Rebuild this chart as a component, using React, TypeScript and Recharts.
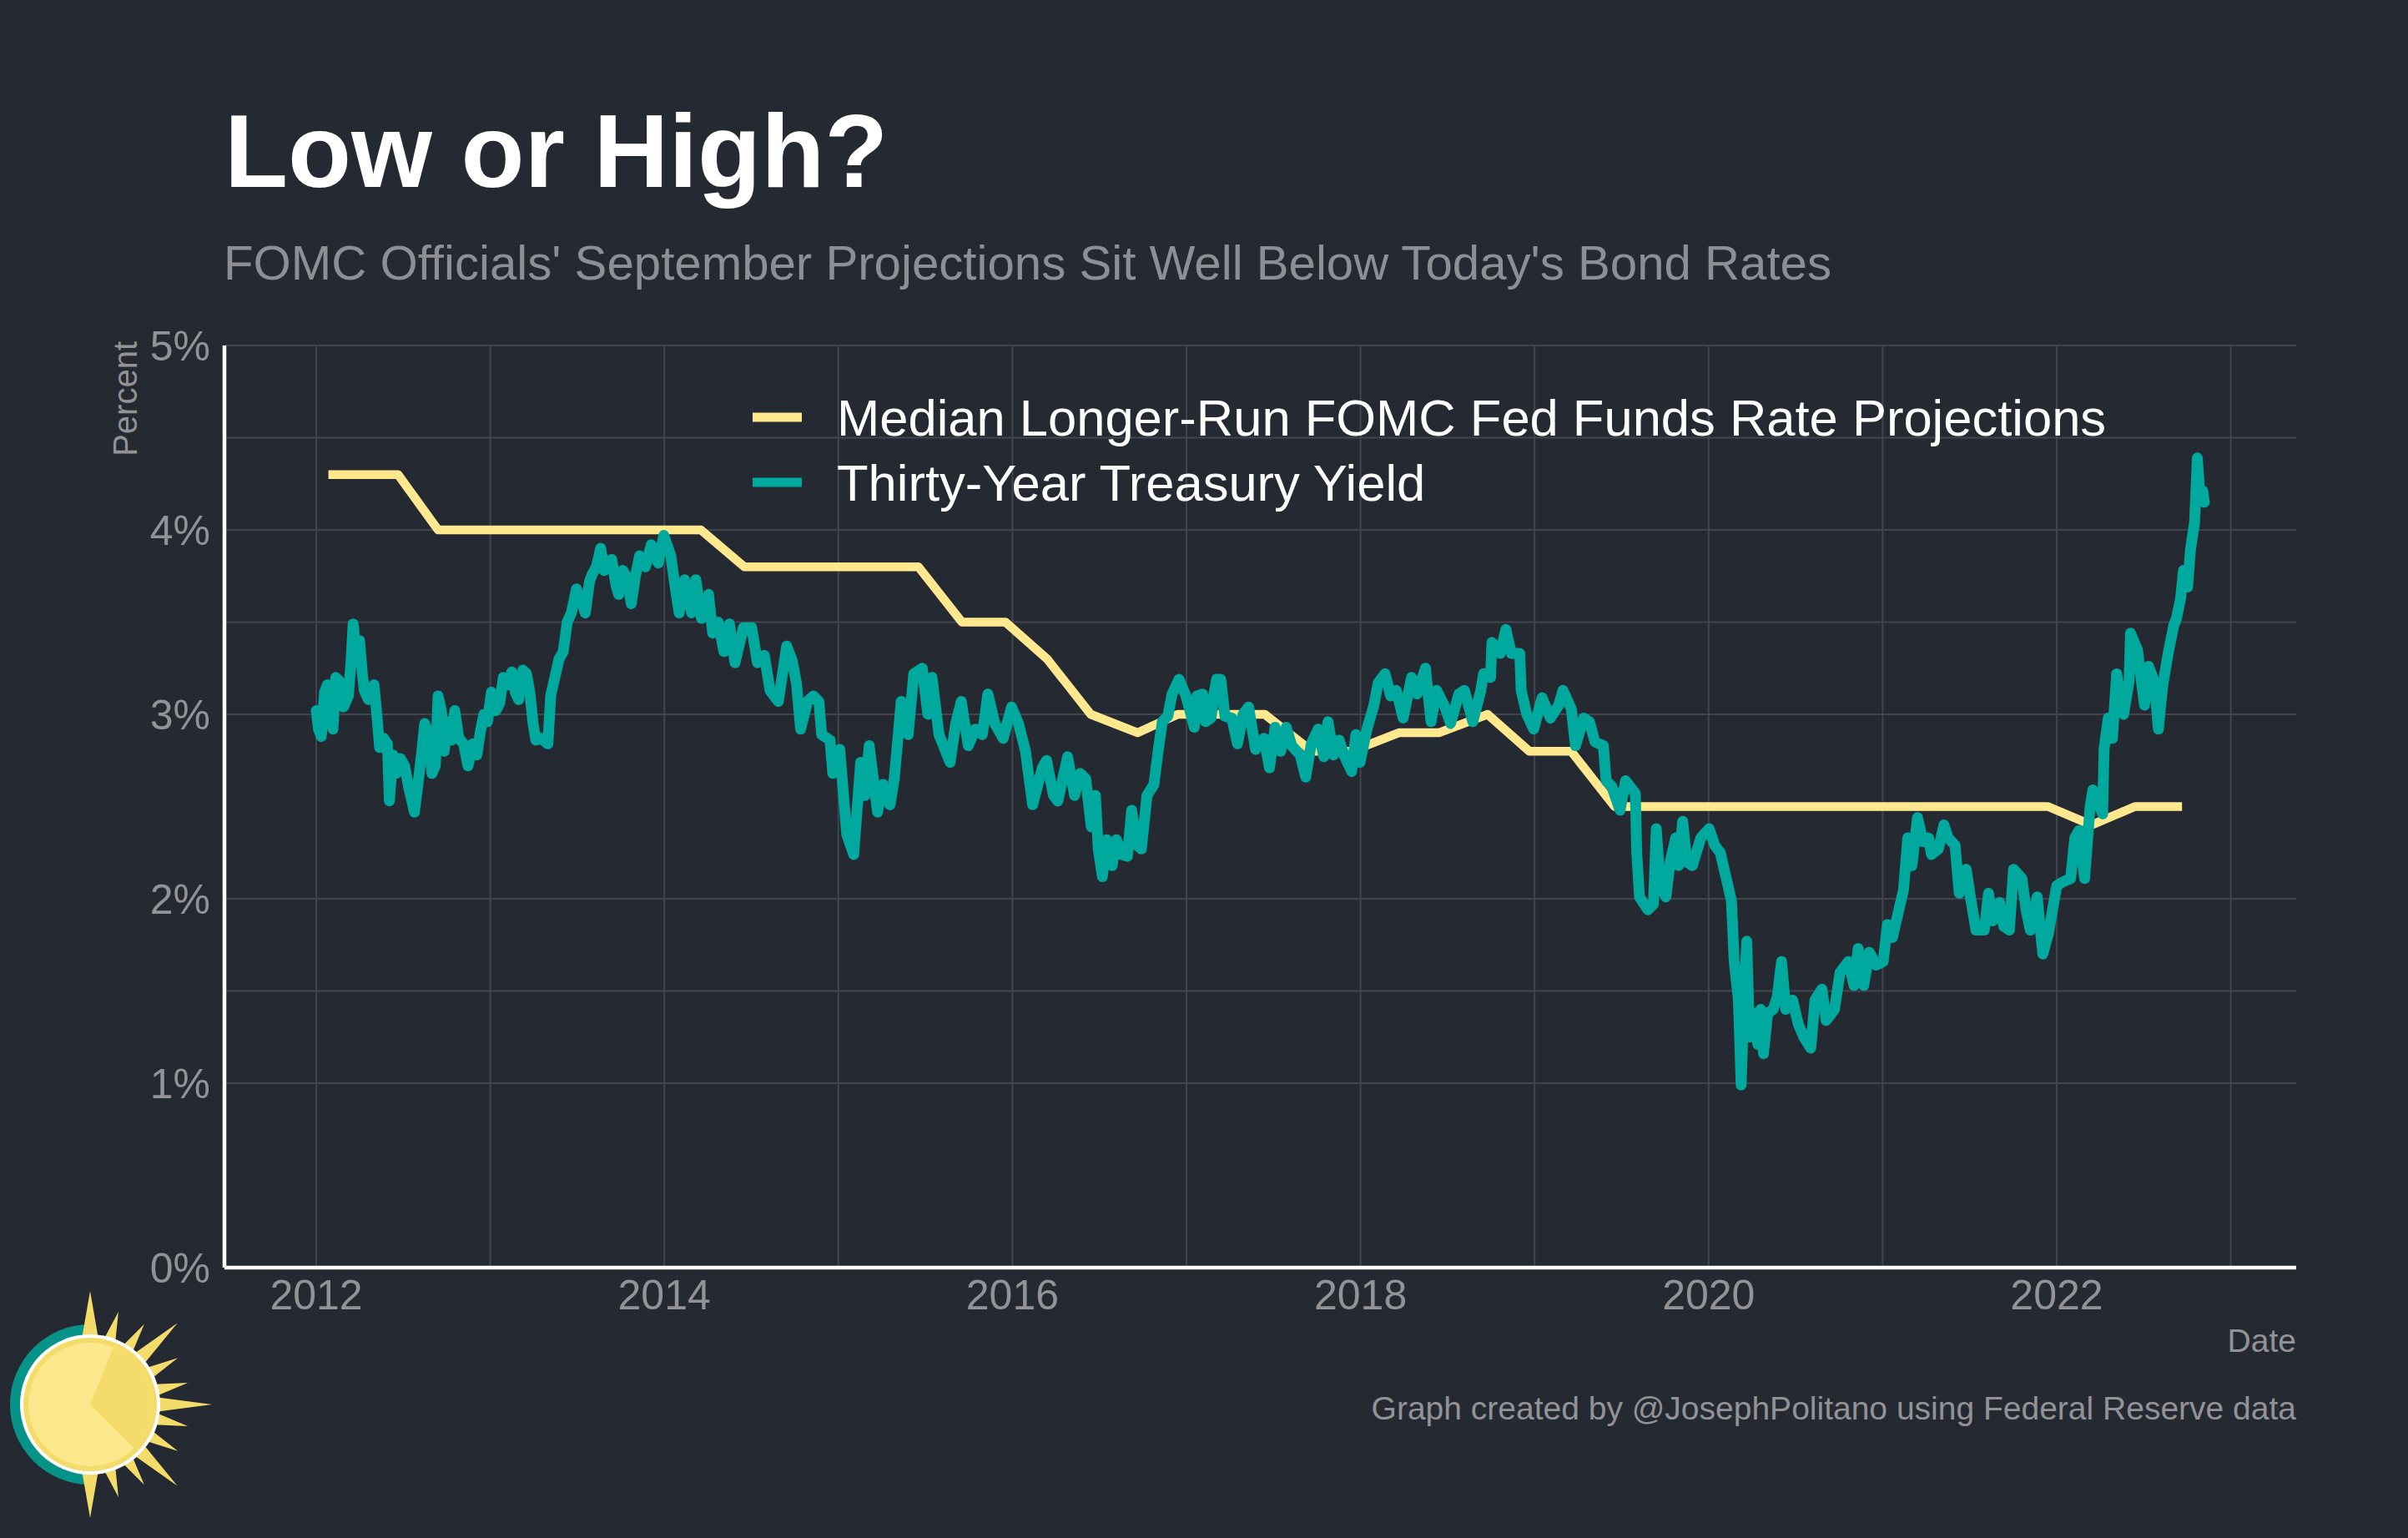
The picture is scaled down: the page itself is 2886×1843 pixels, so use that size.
import React from 'react';
import { LineChart, Line, XAxis, YAxis, CartesianGrid, Legend } from 'recharts';

// ---------- DATA ----------
const fomcDates = [
  2012.07, 2012.32, 2012.47, 2012.70, 2012.95, 2013.21, 2013.46, 2013.71, 2013.96,
  2014.21, 2014.46, 2014.71, 2014.96, 2015.21, 2015.46, 2015.71, 2015.96,
  2016.20, 2016.45, 2016.72, 2016.95, 2017.20, 2017.45, 2017.72, 2017.95,
  2018.22, 2018.45, 2018.73, 2018.97, 2019.21, 2019.46, 2019.71, 2019.94,
  2020.44, 2020.71, 2020.96, 2021.21, 2021.46, 2021.72, 2021.95,
  2022.20, 2022.45, 2022.72,
];
const fomcValues = [
  4.3, 4.3, 4.3, 4.0, 4.0, 4.0, 4.0, 4.0, 4.0,
  4.0, 3.8, 3.8, 3.8, 3.8, 3.8, 3.5, 3.5,
  3.3, 3.0, 2.9, 3.0, 3.0, 3.0, 2.8, 2.8,
  2.9, 2.9, 3.0, 2.8, 2.8, 2.5, 2.5, 2.5,
  2.5, 2.5, 2.5, 2.5, 2.5, 2.5, 2.5,
  2.4, 2.5, 2.5,
];

const treasuryDates = [
  2012.000, 2012.013, 2012.029, 2012.048, 2012.064, 2012.085, 2012.096, 2012.112, 2012.133, 2012.157,
  2012.185, 2012.201, 2012.212, 2012.233, 2012.249, 2012.265, 2012.276, 2012.300, 2012.332, 2012.348,
  2012.364, 2012.388, 2012.409, 2012.420, 2012.441, 2012.460, 2012.484, 2012.508, 2012.532, 2012.564,
  2012.588, 2012.607, 2012.623, 2012.644, 2012.665, 2012.684, 2012.700, 2012.719, 2012.735, 2012.756,
  2012.776, 2012.796, 2012.819, 2012.847, 2012.872, 2012.899, 2012.923, 2012.942, 2012.963, 2012.984,
  2013.006, 2013.032, 2013.054, 2013.075, 2013.099, 2013.123, 2013.144, 2013.163, 2013.187, 2013.208,
  2013.227, 2013.246, 2013.262, 2013.291, 2013.331, 2013.347, 2013.371, 2013.395, 2013.419, 2013.442,
  2013.466, 2013.495, 2013.522, 2013.546, 2013.570, 2013.586, 2013.610, 2013.634, 2013.655, 2013.674,
  2013.698, 2013.722, 2013.738, 2013.762, 2013.786, 2013.810, 2013.834, 2013.858, 2013.892, 2013.925,
  2013.965, 2013.997, 2014.037, 2014.061, 2014.085, 2014.117, 2014.157, 2014.181, 2014.213, 2014.254,
  2014.278, 2014.310, 2014.342, 2014.374, 2014.406, 2014.454, 2014.502, 2014.535, 2014.575, 2014.607,
  2014.655, 2014.703, 2014.735, 2014.759, 2014.783, 2014.823, 2014.856, 2014.888, 2014.904, 2014.952,
  2014.968, 2015.008, 2015.048, 2015.088, 2015.128, 2015.152, 2015.177, 2015.225, 2015.257, 2015.297,
  2015.321, 2015.361, 2015.401, 2015.433, 2015.482, 2015.514, 2015.538, 2015.578, 2015.642, 2015.674,
  2015.706, 2015.746, 2015.787, 2015.827, 2015.859, 2015.899, 2015.947, 2015.995, 2016.035, 2016.075,
  2016.116, 2016.172, 2016.196, 2016.236, 2016.261, 2016.317, 2016.357, 2016.389, 2016.421, 2016.453,
  2016.477, 2016.493, 2016.517, 2016.541, 2016.573, 2016.597, 2016.629, 2016.661, 2016.685, 2016.717,
  2016.741, 2016.773, 2016.813, 2016.837, 2016.861, 2016.893, 2016.917, 2016.957, 2016.997, 2017.045,
  2017.061, 2017.093, 2017.109, 2017.141, 2017.157, 2017.173, 2017.197, 2017.221, 2017.261, 2017.293,
  2017.325, 2017.357, 2017.397, 2017.445, 2017.477, 2017.509, 2017.541, 2017.573, 2017.605, 2017.653,
  2017.685, 2017.717, 2017.757, 2017.789, 2017.813, 2017.845, 2017.877, 2017.909, 2017.949, 2017.973,
  2017.997, 2018.037, 2018.077, 2018.101, 2018.141, 2018.173, 2018.205, 2018.245, 2018.293, 2018.325,
  2018.373, 2018.405, 2018.437, 2018.485, 2018.517, 2018.565, 2018.597, 2018.645, 2018.691, 2018.707,
  2018.747, 2018.755, 2018.803, 2018.835, 2018.867, 2018.915, 2018.923, 2018.955, 2018.995, 2019.043,
  2019.091, 2019.139, 2019.163, 2019.211, 2019.235, 2019.283, 2019.315, 2019.347, 2019.395, 2019.411,
  2019.443, 2019.491, 2019.523, 2019.579, 2019.587, 2019.603, 2019.651, 2019.683, 2019.699, 2019.723,
  2019.755, 2019.779, 2019.811, 2019.827, 2019.851, 2019.875, 2019.907, 2019.955, 2020.003, 2020.035,
  2020.067, 2020.099, 2020.131, 2020.147, 2020.171, 2020.187, 2020.203, 2020.219, 2020.235, 2020.259,
  2020.283, 2020.299, 2020.315, 2020.339, 2020.371, 2020.395, 2020.419, 2020.443, 2020.483, 2020.515,
  2020.547, 2020.587, 2020.611, 2020.651, 2020.675, 2020.723, 2020.755, 2020.803, 2020.835, 2020.859,
  2020.891, 2020.923, 2020.963, 2021.003, 2021.027, 2021.056, 2021.088, 2021.120, 2021.144, 2021.168,
  2021.200, 2021.232, 2021.264, 2021.280, 2021.320, 2021.352, 2021.376, 2021.416, 2021.440, 2021.480,
  2021.504, 2021.536, 2021.584, 2021.608, 2021.632, 2021.672, 2021.696, 2021.728, 2021.752, 2021.800,
  2021.824, 2021.848, 2021.888, 2021.904, 2021.920, 2021.952, 2022.000, 2022.032, 2022.080, 2022.104,
  2022.128, 2022.160, 2022.192, 2022.208, 2022.264, 2022.272, 2022.296, 2022.320, 2022.344, 2022.384,
  2022.416, 2022.424, 2022.464, 2022.504, 2022.528, 2022.560, 2022.584, 2022.608, 2022.640, 2022.672,
  2022.688, 2022.712, 2022.728, 2022.752, 2022.768, 2022.792, 2022.808, 2022.824, 2022.840, 2022.848,
];
const treasuryYields = [
  3.02, 2.92, 2.88, 3.12, 3.16, 3.00, 2.92, 3.20, 3.18, 3.04,
  3.10, 3.30, 3.49, 3.30, 3.40, 3.22, 3.13, 3.08, 3.16, 3.00,
  2.82, 2.87, 2.84, 2.53, 2.78, 2.68, 2.76, 2.72, 2.60, 2.47,
  2.65, 2.80, 2.95, 2.90, 2.68, 2.72, 3.10, 3.02, 2.80, 2.96,
  2.86, 3.02, 2.87, 2.84, 2.72, 2.84, 2.78, 2.90, 3.00, 2.96,
  3.12, 3.02, 3.06, 3.20, 3.16, 3.23, 3.12, 3.08, 3.24, 3.22,
  3.12, 2.95, 2.86, 2.87, 2.84, 3.10, 3.20, 3.30, 3.34, 3.50,
  3.55, 3.68, 3.62, 3.55, 3.72, 3.76, 3.80, 3.90, 3.78, 3.82,
  3.84, 3.70, 3.65, 3.78, 3.74, 3.60, 3.75, 3.86, 3.80, 3.92,
  3.82, 3.97, 3.86, 3.70, 3.55, 3.73, 3.55, 3.73, 3.52, 3.65,
  3.44, 3.50, 3.34, 3.49, 3.28, 3.47, 3.47, 3.28, 3.32, 3.13,
  3.07, 3.37, 3.29, 3.17, 2.92, 3.07, 3.10, 3.07, 2.89, 2.86,
  2.68, 2.81, 2.35, 2.24, 2.74, 2.56, 2.83, 2.47, 2.62, 2.51,
  2.65, 3.07, 2.89, 3.22, 3.25, 3.00, 3.20, 2.89, 2.74, 2.95,
  3.07, 2.83, 2.92, 2.89, 3.11, 2.95, 2.87, 3.04, 2.95, 2.80,
  2.51, 2.71, 2.75, 2.56, 2.53, 2.77, 2.56, 2.68, 2.65, 2.39,
  2.56, 2.27, 2.12, 2.32, 2.18, 2.32, 2.24, 2.23, 2.48, 2.29,
  2.27, 2.56, 2.62, 2.80, 2.96, 2.99, 3.11, 3.19, 3.10, 2.93,
  3.10, 3.11, 2.96, 2.98, 3.10, 3.19, 3.19, 2.99, 2.98, 2.84,
  3.00, 3.04, 2.81, 2.87, 2.71, 2.93, 2.80, 2.93, 2.83, 2.78,
  2.66, 2.84, 2.92, 2.77, 2.96, 2.78, 2.86, 2.77, 2.69, 2.89,
  2.74, 2.92, 3.05, 3.17, 3.22, 3.10, 3.13, 2.98, 3.20, 3.11,
  3.25, 2.96, 3.13, 3.04, 2.95, 3.11, 3.13, 2.96, 3.13, 3.22,
  3.20, 3.39, 3.33, 3.46, 3.33, 3.33, 3.13, 3.00, 2.92, 3.09,
  2.98, 3.05, 3.13, 3.03, 2.83, 2.98, 2.96, 2.85, 2.83, 2.64,
  2.61, 2.48, 2.64, 2.57, 2.25, 2.01, 1.94, 1.97, 2.38, 2.07,
  2.01, 2.20, 2.33, 2.18, 2.42, 2.20, 2.18, 2.33, 2.38, 2.29,
  2.25, 2.12, 1.99, 1.66, 1.45, 0.99, 1.45, 1.77, 1.25, 1.38,
  1.21, 1.40, 1.16, 1.38, 1.40, 1.47, 1.66, 1.40, 1.45, 1.32,
  1.25, 1.19, 1.45, 1.51, 1.34, 1.40, 1.60, 1.66, 1.53, 1.73,
  1.53, 1.71, 1.64, 1.66, 1.86, 1.79, 1.92, 2.05, 2.33, 2.18,
  2.44, 2.31, 2.33, 2.24, 2.27, 2.40, 2.33, 2.29, 2.03, 2.16,
  2.01, 1.83, 1.83, 2.03, 1.88, 1.98, 1.85, 1.83, 2.16, 2.11,
  1.94, 1.83, 2.01, 1.85, 1.70, 1.81, 2.07, 2.09, 2.11, 2.33,
  2.37, 2.11, 2.50, 2.59, 2.46, 2.81, 2.98, 2.87, 3.22, 3.00,
  3.18, 3.44, 3.35, 3.05, 3.26, 3.18, 2.92, 3.15, 3.33, 3.48,
  3.52, 3.63, 3.78, 3.69, 3.89, 4.04, 4.39, 4.17, 4.21, 4.15,
];

const xTicks = [2012, 2014, 2016, 2018, 2020, 2022];
const xGridYears = [2012, 2013, 2014, 2015, 2016, 2017, 2018, 2019, 2020, 2021, 2022, 2023];
const yTicks = [0, 1, 2, 3, 4, 5];
const yGridValues = [1, 1.5, 2, 3, 3.5, 4, 4.5, 5];

const seriesNames = {
  fomc: 'Median Longer-Run FOMC Fed Funds Rate Projections',
  treasury: 'Thirty-Year Treasury Yield',
};

const fomcData = fomcDates.map((t, i) => ({ t, v: fomcValues[i] }));
const treasuryData = treasuryDates.map((t, i) => ({ t, v: treasuryYields[i] }));

// ---------- STYLE ----------
const BG = '#252A32';
const GRID = '#42454D';
const GREY = '#939397';
const YELLOW = '#FFE88E';
const TEAL = '#00A99D';
const FONT = "'Liberation Sans', Arial, sans-serif";

const W = 2886;
const H = 1843;

// decorative logo rays: [angle deg, length, half-width deg]
const rays: number[][] = [
  [90, 136, 8], [73, 116, 6], [56, 116, 6], [43, 143, 7], [28, 119, 6], [12.5, 120, 6], [0, 146, 7],
  [-12.5, 120, 6], [-28, 119, 6], [-43, 143, 7], [-56, 116, 6], [-73, 116, 6], [-90, 136, 8],
];

function Logo() {
  const cx = 108;
  const cy = 1683;
  const rad = (d: number) => (d * Math.PI) / 180;
  const pt = (a: number, r: number) => `${cx + r * Math.cos(rad(a))},${cy - r * Math.sin(rad(a))}`;
  const rIn = 74;
  const a1 = 68;
  const a2 = -45;
  return (
    <g>
      <path d={`M ${cx} ${cy - 96} A 96 96 0 0 0 ${cx} ${cy + 96} Z`} fill="#079488" />
      {rays.map(([a, l, w], i) => (
        <polygon key={i} points={`${pt(a + w, 76)} ${pt(a, l)} ${pt(a - w, 76)}`} fill="#F4DC6A" />
      ))}
      <circle cx={cx} cy={cy} r={84} fill="#FFFFFF" />
      <circle cx={cx} cy={cy} r={80} fill="#F4DC6A" />
      <circle cx={cx} cy={cy} r={rIn} fill="#FDE78D" />
      <path
        d={`M ${cx} ${cy} L ${pt(a1, rIn).replace(',', ' ')} A ${rIn} ${rIn} 0 0 1 ${pt(a2, rIn).replace(',', ' ')} Z`}
        fill="#F4DC6A"
      />
    </g>
  );
}

function renderLegend(props: any) {
  const payload = props.payload || [];
  return (
    <svg width={1700} height={180} style={{ overflow: 'visible' }}>
      {payload.map((p: any, i: number) => (
        <g key={i}>
          <line x1={22} x2={81} y1={50 + i * 78} y2={50 + i * 78} stroke={p.color} strokeWidth={11} />
          <text x={123} y={72 + i * 78} fill="#FFFFFF" fontSize={61.5} fontFamily={FONT}>
            {p.value}
          </text>
        </g>
      ))}
    </svg>
  );
}

export default function App() {
  return (
    <div style={{ position: 'absolute', left: 0, top: 0, width: W, height: H, background: BG, overflow: 'hidden' }}>
      <div style={{ position: 'absolute', left: 0, top: 0 }}>
        <LineChart width={W} height={H} margin={{ top: 414, right: 134, bottom: 264, left: 169 }}>
          <CartesianGrid
            stroke={GRID}
            strokeWidth={2}
            horizontalValues={yGridValues}
            verticalValues={xGridYears}
          />
          <XAxis
            type="number"
            dataKey="t"
            domain={[2011.4727, 2023.3759]}
            allowDataOverflow
            ticks={xTicks}
            interval={0}
            height={60}
            tickSize={0}
            tickMargin={14}
            tickLine={false}
            axisLine={{ stroke: '#FFFFFF', strokeWidth: 4.5 }}
            tick={{ fill: GREY, fontSize: 50, fontFamily: FONT }}
            tickFormatter={(v: number) => String(v)}
          />
          <YAxis
            type="number"
            domain={[0, 5]}
            ticks={yTicks}
            interval={0}
            width={100}
            tickSize={0}
            tickMargin={17}
            tickLine={false}
            axisLine={{ stroke: '#FFFFFF', strokeWidth: 4.5 }}
            tick={{ fill: GREY, fontSize: 50, fontFamily: FONT }}
            tickFormatter={(v: number) => `${v}%`}
          />
          <Legend
            layout="vertical"
            align="center"
            verticalAlign="middle"
            content={renderLegend}
            wrapperStyle={{ position: 'absolute', left: 880, top: 450, width: 1700, height: 180 }}
          />
          <Line
            data={fomcData}
            dataKey="v"
            name={seriesNames.fomc}
            type="linear"
            stroke={YELLOW}
            strokeWidth={10.5}
            strokeLinejoin="round"
            strokeLinecap="butt"
            dot={false}
            activeDot={false}
            isAnimationActive={false}
          />
          <Line
            data={treasuryData}
            dataKey="v"
            name={seriesNames.treasury}
            type="linear"
            stroke={TEAL}
            strokeWidth={13}
            strokeLinejoin="round"
            strokeLinecap="round"
            dot={false}
            activeDot={false}
            isAnimationActive={false}
          />
        </LineChart>
      </div>
      <svg width={W} height={H} style={{ position: 'absolute', left: 0, top: 0, pointerEvents: 'none' }}>
        <text x={269} y={224} fill="#FFFFFF" fontSize={124.5} fontWeight="bold" fontFamily={FONT}>
          Low or High?
        </text>
        <text x={268} y={335} fill="#8E8F94" fontSize={58.2} fontFamily={FONT}>
          FOMC Officials' September Projections Sit Well Below Today's Bond Rates
        </text>
        <text
          x={164}
          y={409}
          fill={GREY}
          fontSize={40}
          fontFamily={FONT}
          textAnchor="end"
          transform="rotate(-90 164 409)"
        >
          Percent
        </text>
        <text x={2752} y={1620} fill={GREY} fontSize={39} fontFamily={FONT} textAnchor="end">
          Date
        </text>
        <text x={2752} y={1701} fill={GREY} fontSize={39} fontFamily={FONT} textAnchor="end">
          Graph created by @JosephPolitano using Federal Reserve data
        </text>
        <Logo />
      </svg>
    </div>
  );
}
